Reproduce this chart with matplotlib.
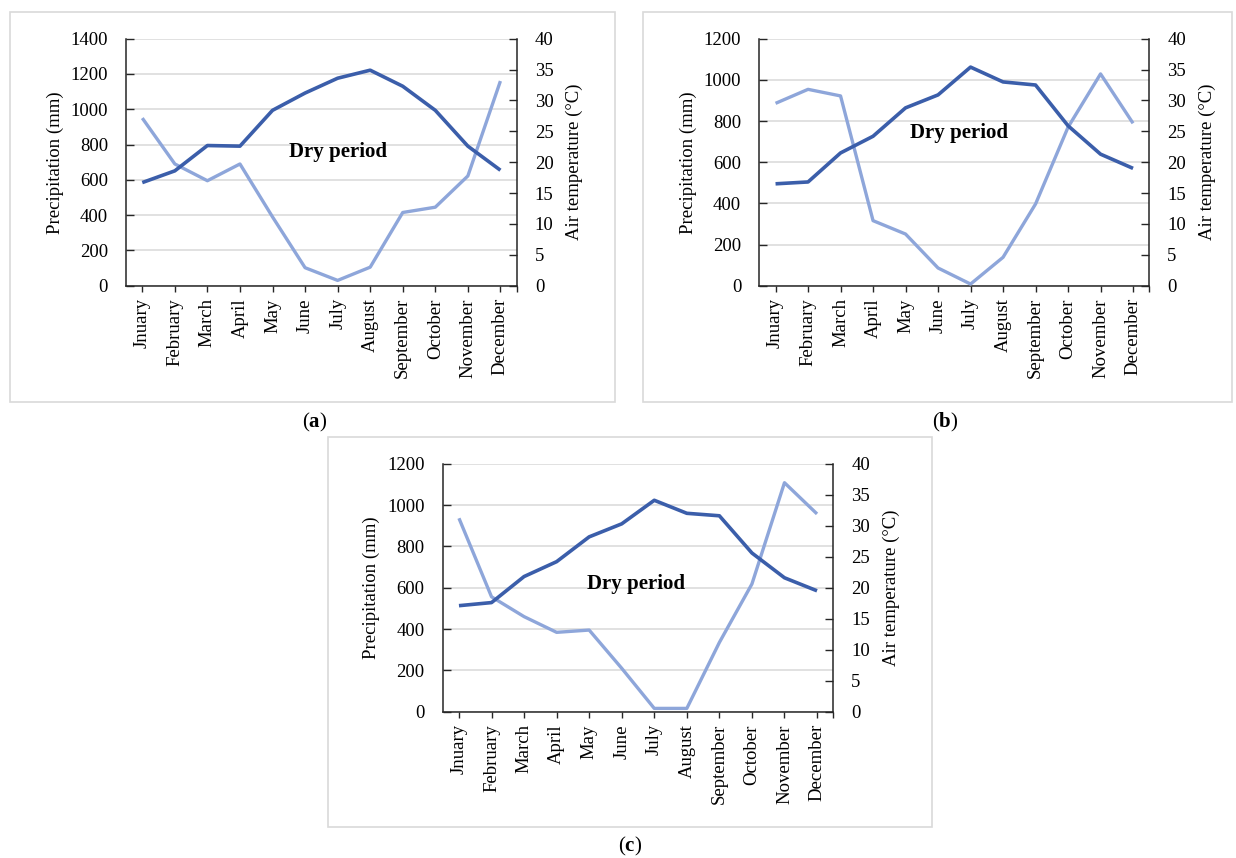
import numpy as np
from matplotlib import pyplot as plt
from matplotlib.patches import Rectangle

plt.rcParams['font.family'] = ['Liberation Serif', 'DejaVu Serif']
plt.rcParams['mathtext.fontset'] = 'custom'
plt.rcParams['mathtext.rm'] = 'Liberation Serif'
plt.rcParams['mathtext.bf'] = 'Liberation Serif:bold'

months = ['Jnuary', 'February', 'March', 'April', 'May', 'June', 'July',
          'August', 'September', 'October', 'November', 'December']

# monthly precipitation (mm) and mean air temperature (°C) for each station
precip_a = [950, 690, 595, 690, 390, 102, 30, 105, 415, 445, 622, 1160]
temp_a = [16.7, 18.6, 22.7, 22.6, 28.4, 31.2, 33.6, 34.9, 32.3, 28.4, 22.6, 18.7]

precip_b = [886, 954, 922, 316, 251, 86, 8, 138, 397, 770, 1029, 789]
temp_b = [16.5, 16.8, 21.5, 24.2, 28.8, 30.9, 35.4, 33.0, 32.5, 25.9, 21.3, 19.0]

precip_c = [936, 556, 460, 384, 395, 210, 16, 16, 335, 618, 1108, 957]
temp_c = [17.1, 17.6, 21.8, 24.2, 28.2, 30.3, 34.1, 32.0, 31.6, 25.6, 21.6, 19.5]

W, H = 1236, 858
DARK = '#3B5EAA'
LIGHT = '#8EA6DA'
GRID = '#D9D9D9'
FS = 13.5


def px_rect(x0, y0, x1, y1):
    # pixel box (top-left origin) -> figure fraction [left, bottom, width, height]
    return [x0 / W, 1 - y1 / H, (x1 - x0) / W, (y1 - y0) / H]


def draw_panel(fig, axes_px, box_px, precip, temp, pmax, dry_xy, letter, letter_px):
    bx = px_rect(*box_px)
    fig.add_artist(Rectangle((bx[0], bx[1]), bx[2], bx[3], transform=fig.transFigure,
                             facecolor='white', edgecolor=GRID, linewidth=1.2, zorder=0))

    ax = fig.add_axes(px_rect(*axes_px))
    ax.set_facecolor('none')
    x = np.arange(len(months))

    ax.plot(x, precip, color=LIGHT, lw=2.4, solid_capstyle='butt', zorder=3)
    ax.set_xlim(-0.5, 11.5)
    ax.set_ylim(0, pmax)
    ax.set_yticks(np.arange(0, pmax + 1, 200))
    ax.yaxis.grid(True, color=GRID, lw=1.1)
    ax.set_axisbelow(True)
    ax.set_xticks(x)
    ax.set_xticklabels(months, rotation=90, fontsize=FS)
    ax.set_xticks([11.5], minor=True)
    ax.tick_params(axis='x', which='both', direction='out', length=4, width=1, pad=5,
                   color='#262626')
    ax.tick_params(axis='y', direction='in', length=6, width=1, pad=13,
                   labelsize=FS, color='#262626')
    for s in ['top', 'right']:
        ax.spines[s].set_visible(False)
    for s in ['left', 'bottom']:
        ax.spines[s].set_color('#262626')
        ax.spines[s].set_linewidth(1.1)

    ax2 = ax.twinx()
    ax2.plot(x, temp, color=DARK, lw=2.6, solid_capstyle='butt', zorder=4)
    ax2.set_ylim(0, 40)
    ax2.set_yticks(np.arange(0, 41, 5))
    ax2.tick_params(axis='y', direction='in', length=6, width=1, pad=13,
                    labelsize=FS, color='#262626')
    for s in ['top', 'left', 'bottom']:
        ax2.spines[s].set_visible(False)
    ax2.spines['right'].set_color('#262626')
    ax2.spines['right'].set_linewidth(1.1)

    ax.text(-0.182, 0.5, 'Precipitation (mm)', transform=ax.transAxes, rotation=90,
            ha='center', va='center', fontsize=FS)
    ax.text(1.148, 0.5, 'Air temperature (°C)', transform=ax.transAxes, rotation=90,
            ha='center', va='center', fontsize=FS)
    ax.text(dry_xy[0], dry_xy[1], 'Dry period', ha='center', va='center',
            fontsize=15, fontweight='bold', zorder=5)

    fig.text(letter_px[0] / W, 1 - letter_px[1] / H, r'($\mathbf{%s}$)' % letter,
             ha='center', va='center', fontsize=15)


fig = plt.figure(figsize=(W / 100, H / 100), dpi=100)

draw_panel(fig, (126, 38.7, 516.7, 285.7), (10, 11.7, 615, 402.3),
           precip_a, temp_a, 1400, (6.0, 758), 'a', (315, 422))
draw_panel(fig, (759.3, 38.7, 1149.3, 285.7), (643, 11.7, 1232, 402.3),
           precip_b, temp_b, 1200, (5.64, 742), 'b', (945, 422))
draw_panel(fig, (442.7, 463.7, 833.3, 711.7), (327.7, 436.7, 931.7, 827),
           precip_c, temp_c, 1200, (5.44, 618), 'c', (630, 846))

fig.savefig('out.png', dpi=100)
